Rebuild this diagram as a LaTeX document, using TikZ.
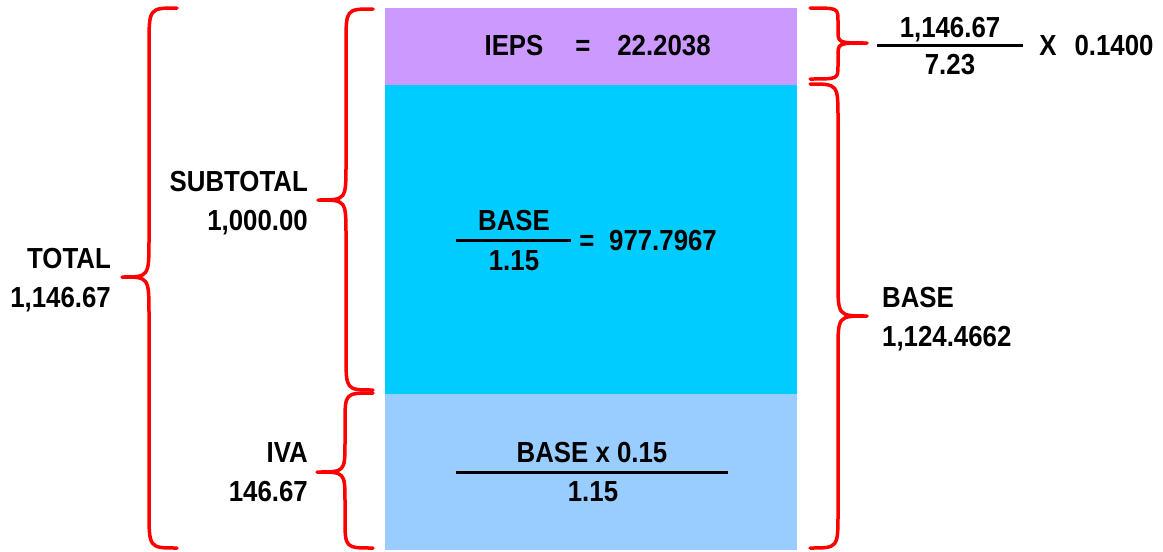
\documentclass[tikz,border=0pt]{standalone}
\usepackage{fontspec}
\setmainfont{Liberation Sans}[FakeStretch=0.89]
\usepackage{xcolor}
\usetikzlibrary{positioning}

\definecolor{iepsfill}{HTML}{CC99FF}
\definecolor{subfill}{HTML}{00CCFF}
\definecolor{ivafill}{HTML}{99CCFF}
\definecolor{bracered}{HTML}{FF0000}

\tikzset{
  lbl/.style={font=\fontsize{29}{40}\selectfont\bfseries, inner sep=0pt,
              text height=20.8pt, text depth=0pt},
  curly/.style={bracered, line width=3.5pt, line cap=round, line join=round},
  fracbar/.style={black, line width=3pt},
}

% curly brace: ends x, spine x, tip x, top y, tip y, bottom y, bend height
\newcommand{\curlybrace}[7]{%
  \draw[curly] (#1,#4) .. controls (#2,#4) .. (#2,#4+#7) -- (#2,#5-#7)
    .. controls (#2,#5) .. (#3,#5) .. controls (#2,#5) .. (#2,#5+#7)
    -- (#2,#6-#7) .. controls (#2,#6) .. (#1,#6);%
}

\begin{document}
\begin{tikzpicture}[x=1pt, y=-1pt]
\useasboundingbox (0,0) rectangle (1163,552);

% the three blocks
\fill[iepsfill] (385,8)   rectangle (797,85);
\fill[subfill]  (385,85)  rectangle (797,394);
\fill[ivafill]  (385,394) rectangle (797,550);

% braces
\curlybrace{177}{149}{122}{8}{277}{548}{38}
\curlybrace{373}{346}{318}{9}{200}{390}{35}
\curlybrace{373}{345}{317}{393}{472}{548}{30}
\curlybrace{810}{838}{867}{8}{43}{79}{13}
\curlybrace{810}{838}{867}{84}{316}{548}{35}

% left labels
\node[lbl, anchor=east] (total)    at (111,258) {TOTAL};
\node[lbl, anchor=east] (totalval) at (111,297) {1,146.67};
\node[lbl, anchor=east] (subtot)    at (308,181) {SUBTOTAL};
\node[lbl, anchor=east] (subtotval) at (308,220) {1,000.00};
\node[lbl, anchor=east] (iva)    at (308,452) {IVA};
\node[lbl, anchor=east] (ivaval) at (308,491) {146.67};

% right labels
\node[lbl, anchor=west] (base)    at (882,297) {BASE};
\node[lbl, anchor=west] (baseval) at (882,336) {1,124.4662};

% IEPS row
\node[lbl] (ieps)    at (514,45) {IEPS};
\node[lbl] (iepseq)  at (583,45) {=};
\node[lbl] (iepsval) at (664,45) {22.2038};

% subtotal fraction
\node[lbl] (subnum) at (514,220) {BASE};
\node[lbl] (subden) at (514,260) {1.15};
\draw[fracbar] (456,240) -- (571,240);
\node[lbl] (subeq)  at (587,240) {=};
\node[lbl] (subval) at (663,240) {977.7967};

% iva fraction
\node[lbl] (ivanum) at (592,452) {BASE x 0.15};
\node[lbl] (ivaden) at (593,491) {1.15};
\draw[fracbar] (456,472) -- (728,472);

% ieps formula
\node[lbl] (formnum) at (950,27) {1,146.67};
\node[lbl] (formden) at (950,64) {7.23};
\draw[fracbar] (877,45) -- (1023,45);
\node[lbl] (formx)    at (1048,45) {X};
\node[lbl] (formrate) at (1114,45) {0.1400};
\end{tikzpicture}
\end{document}
